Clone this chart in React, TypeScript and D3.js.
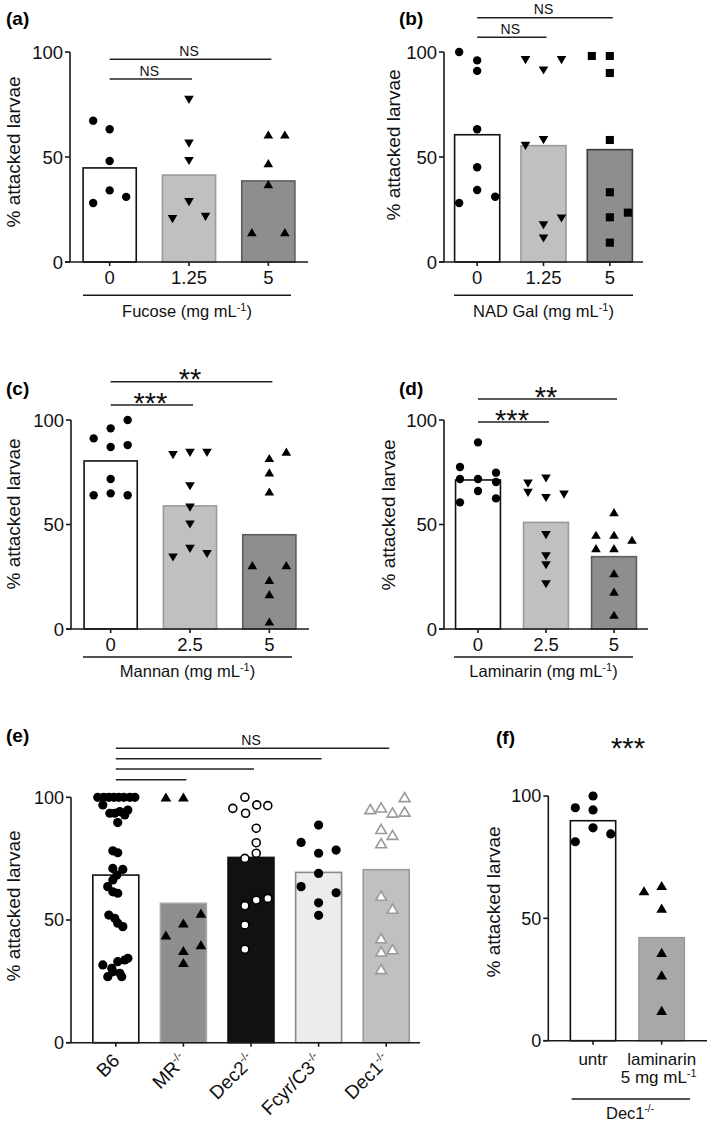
import React from 'react';
import * as d3 from 'd3';

const FONT = "'Liberation Sans', Arial, Helvetica, sans-serif";

// ---------- Panel (a): Fucose ----------
const fucoseDoses = ['0', '1.25', '5'];
const fucoseMeans = [44.8, 41.4, 38.6];
const fucose0 = [67.3, 63.2, 48.1, 34.1, 28.1, 31.0];
const fucose0Slot = [-1, 0, 0, 0, -1, 1];
const fucose1 = [77.3, 56.5, 48.2, 28.6, 20.5, 21.6];
const fucose1Slot = [0, 0, 0, 0, -1, 1];
const fucose2 = [60.6, 60.6, 47, 37, 14.1, 14.1];
const fucose2Slot = [0, 1, 0, 0, -1, 1];

// ---------- Panel (b): NAD Gal ----------
const nadDoses = ['0', '1.25', '5'];
const nadMeans = [60.6, 55.4, 53.5];
const nad0 = [100, 96, 91, 63.2, 45.1, 34.3, 28.1, 31.1];
const nad0Slot = [-1, 0, 0, 0, 0, 0, -1, 1];
const nad1 = [96.2, 91.3, 96.2, 58.1, 55.4, 20.8, 17.6, 11.3];
const nad1Slot = [-1, 0, 1, 0, -1, 1, 0, 0];
const nad2 = [98.1, 98.1, 90, 58.1, 33.2, 21.3, 23.5, 9.2];
const nad2Slot = [-1, 0, 0, 0, 0, 0, 1, 0];

// ---------- Panel (c): Mannan ----------
const mannanDoses = ['0', '2.5', '5'];
const mannanMeans = [80.4, 58.9, 45.1];
const mannan0 = [91.2, 96, 100, 87.1, 88, 71.8, 64, 64.9, 64];
const mannan0Slot = [-1, 0, 1, 0, 1, 0, -1, 0, 1];
const mannan1 = [83.3, 84.4, 84.4, 68.4, 58.2, 50.1, 34.3, 38.4, 36];
const mannan1Slot = [-1, 0, 1, 0, 0, 0, -1, 0, 1];
const mannan2 = [81.7, 84.8, 74.8, 65.7, 30.5, 30.5, 23.4, 16.6, 3.5];
const mannan2Slot = [0, 1, 0, 0, -1, 1, 0, 0, 0];

// ---------- Panel (d): Laminarin ----------
const lamDoses = ['0', '2.5', '5'];
const lamMeans = [71.3, 51, 34.6];
const lam0 = [89.3, 77.5, 71.8, 71.8, 74.8, 70.3, 66, 60.6, 62.5];
const lam0Slot = [0, -1, -1, 0, 1, 1, 0, -1, 1];
const lam1 = [69.7, 65.2, 72.1, 62.8, 64.4, 45, 34.9, 30.6, 21.5];
const lam1Slot = [-1, -1, 0, 0, 1, 0, 0, 0, 0];
const lam2 = [55.8, 45, 45, 42.6, 38.6, 38.6, 26.6, 17.8, 6.7];
const lam2Slot = [0, -1, 0, 1, -1, 0, 0, 0, 0];

// ---------- Panel (e): knockouts ----------
const strains = ['B6', 'MR', 'Dec2', 'Fcyr/C3', 'Dec1'];
const strainSup = ['', '-/-', '-/-', '-/-', '-/-'];
const strainMeans = [68.3, 56.8, 75.5, 69.4, 70.5];
const b6 = [100, 100, 100, 100, 100, 100, 100, 100, 96.9, 93.5, 93.5, 94.2, 94.8, 92.8, 89.7, 78.2, 77.4,
  71, 70.6, 68.3, 66.3, 63.6, 61.5, 60.9, 52, 50.7, 48.7, 47.3, 31.7, 30.3, 33, 33.7, 34.4, 26.9, 28.9, 28.3, 26.9];
const b6Slot = [-1.03, -0.69, -0.4, -0.11, 0.17, 0.46, 0.8, 1.09, -0.74, -0.34, -0.06, 0.23, 0.69, 0.51, 0.11, -0.17, 0.11,
  -0.17, 0.4, 0.06, -0.17, -0.46, -0.17, 0.11, -0.4, -0.06, 0.11, 0.4, -0.74, -0.23, 0.11, 0.51, 0.69, -0.46, -0.17, 0.23, 0.34];
const mr = [100, 100, 43.8, 48.7, 52.7, 37.5, 39.8, 32.6];
const mrSlot = [-1, 0, -1, 0, 1, 0, 1, 0];
const dec2 = [100, 95.5, 93.5, 96.9, 96.6, 87.4, 81.5, 77.2, 75.1, 58.1, 58.8, 55.8, 48, 38.1];
const dec2Slot = [-0.35, -1.04, -0.31, 0.33, 0.96, 0.3, 0.3, 0.3, -0.35, 0.3, 0.96, -0.35, -0.35, -0.35];
const fcyr = [88.7, 81.6, 77.2, 78.5, 69, 63.6, 61.1, 57, 51.9];
const fcyrSlot = [0, -1, 0, 1, 0, -1, 1, 0, 0];
const dec1 = [100, 95.1, 95.8, 93.7, 94.1, 87, 84.6, 81.2, 59.8, 54.5, 42.5, 38, 37.1, 29.9];
const dec1Slot = [1.05, -0.91, -0.29, 0.36, 1.05, -0.29, 0.36, -0.29, -0.29, 0.36, -0.29, 0.36, -0.29, -0.29];

// ---------- Panel (f): Dec1-/- laminarin ----------
const fTreat = ['untr', 'laminarin'];
const fMeans = [89.9, 42.1];
const fUntr = [95.2, 100, 94.3, 87, 84.5, 81.3];
const fUntrSlot = [-1, 0, 0, 0, 1, -1];
const fLam = [61.2, 63.3, 54.1, 36, 26.8, 12.3];
const fLamSlot = [-1, 0, 0, 0, 0, 0];

const yTicks = [0, 50, 100];

type Shape = 'circle' | 'openCircle' | 'triUp' | 'triDown' | 'openTri' | 'square';
interface Group { vals: number[]; slots: number[]; shape: Shape; }
interface Bracket { from: number; to: number; y: number; text: string; kind: 'ns' | 'star'; }
interface Cfg {
  label: string; labelPos: [number, number];
  axisX: number; axisEnd: number; band: [number, number]; yTop: number; y0: number; pad: number;
  slotPx: number; r: number; tri: number; tickFont: number;
  cats: string[]; sups?: string[]; means: number[]; groups: Group[];
  fills: string[]; strokes: string[];
  yLabel: [number, number];
  catMode: 'plain' | 'rot' | 'two';
  title: React.ReactNode; titlePos: [number, number]; underline: [number, number, number];
  brackets: Bracket[];
}

function Marker({ shape, x, y, r, t }: { shape: Shape; x: number; y: number; r: number; t: number }) {
  const up = `M${x},${y - t * 0.5}L${x + t * 0.56},${y + t * 0.45}L${x - t * 0.56},${y + t * 0.45}Z`;
  const down = `M${x},${y + t * 0.5}L${x + t * 0.56},${y - t * 0.45}L${x - t * 0.56},${y - t * 0.45}Z`;
  switch (shape) {
    case 'circle': return <circle cx={x} cy={y} r={r} fill="#000" />;
    case 'openCircle': return <circle cx={x} cy={y} r={r - 0.6} fill="#fff" stroke="#000" strokeWidth={1.6} />;
    case 'square': return <rect x={x - t * 0.47} y={y - t * 0.47} width={t * 0.94} height={t * 0.94} fill="#000" />;
    case 'triUp': return <path d={up} fill="#000" />;
    case 'triDown': return <path d={down} fill="#000" />;
    case 'openTri': return <path d={up} fill="#fff" stroke="#9a9a9a" strokeWidth={1.6} />;
  }
  return null;
}

function Panel({ c }: { c: Cfg }) {
  const x = d3.scaleBand<number>().domain(c.cats.map((_, i) => i)).range(c.band)
    .paddingInner(c.pad).paddingOuter(c.pad / 2);
  const y = d3.scaleLinear().domain([0, 100]).range([c.y0, c.yTop]);
  const cx = (i: number) => (x(i) as number) + x.bandwidth() / 2;
  const ax = '#1a1a1a';
  return (
    <g fontFamily={FONT}>
      <text x={c.labelPos[0]} y={c.labelPos[1]} fontSize={19} fontWeight="bold">{c.label}</text>
      {/* bars */}
      {c.means.map((m, i) => (
        <rect key={'b' + i} x={x(i)} y={y(m)} width={x.bandwidth()} height={c.y0 - y(m)}
          fill={c.fills[i]} stroke={c.strokes[i]} strokeWidth={1.6} />
      ))}
      {/* points */}
      {c.groups.map((g, gi) => g.vals.map((v, k) => (
        <Marker key={`p${gi}-${k}`} shape={g.shape} x={cx(gi) + g.slots[k] * c.slotPx} y={y(v)} r={c.r} t={c.tri} />
      )))}
      {/* y axis */}
      <line x1={c.axisX} x2={c.axisX} y1={y(100)} y2={c.y0} stroke={ax} strokeWidth={1.6} />
      {yTicks.map(t => (
        <g key={'t' + t}>
          <line x1={c.axisX - 5} x2={c.axisX} y1={y(t)} y2={y(t)} stroke={ax} strokeWidth={1.6} />
          <text x={c.axisX - 7} y={y(t)} dy="0.36em" textAnchor="end" fontSize={c.tickFont} fill="#111">{t}</text>
        </g>
      ))}
      <text transform={`translate(${c.yLabel[0]},${c.yLabel[1]}) rotate(-90)`} textAnchor="middle" fontSize={19} fill="#111">% attacked larvae</text>
      {/* x axis */}
      <line x1={c.axisX - 5} x2={c.axisEnd} y1={c.y0} y2={c.y0} stroke={ax} strokeWidth={1.6} />
      {c.cats.map((cat, i) => (
        <g key={'c' + i}>
          <line x1={cx(i)} x2={cx(i)} y1={c.y0} y2={c.y0 + 4} stroke={ax} strokeWidth={1.6} />
          {c.catMode === 'plain' && (
            <text x={cx(i)} y={c.y0 + 21.5} textAnchor="middle" fontSize={c.tickFont} fill="#111">{cat}</text>
          )}
          {c.catMode === 'rot' && (
            <text transform={`translate(${cx(i) + 5},${c.y0 + 19}) rotate(-45)`} textAnchor="end" fontSize={19} fill="#111">
              {cat}{c.sups && c.sups[i] ? <tspan dy={-8} fontSize={11}>{c.sups[i]}</tspan> : null}
            </text>
          )}
          {c.catMode === 'two' && i === 0 && (
            <text x={cx(i)} y={c.y0 + 24} textAnchor="middle" fontSize={17} fill="#111">{cat}</text>
          )}
          {c.catMode === 'two' && i === 1 && (
            <text x={cx(i)} y={c.y0 + 24} textAnchor="middle" fontSize={17} fill="#111">
              <tspan x={cx(i)}>{cat}</tspan>
              <tspan x={cx(i) - 3} dy={18}>5 mg mL</tspan>
              <tspan dy={-5.5} fontSize={11}>-1</tspan>
            </text>
          )}
        </g>
      ))}
      {/* underline and title */}
      {c.underline[1] > 0 && (
        <line x1={c.underline[0]} x2={c.underline[1]} y1={c.underline[2]} y2={c.underline[2]} stroke={ax} strokeWidth={1.6} />
      )}
      {c.title && (
        <text x={c.titlePos[0]} y={c.titlePos[1]} textAnchor="middle" fontSize={16.5} fill="#111">{c.title}</text>
      )}
      {/* significance brackets */}
      {c.brackets.map((b, i) => (
        <g key={'s' + i}>
          <line x1={cx(b.from)} x2={cx(b.to) + 3} y1={b.y} y2={b.y} stroke="#222" strokeWidth={1.6} />
          {b.text && (b.kind === 'ns' ? (
            <text x={(cx(b.from) + cx(b.to)) / 2} y={b.y - 3.5} textAnchor="middle" fontSize={14} fill="#111">{b.text}</text>
          ) : (
            <text x={(cx(b.from) + cx(b.to)) / 2} y={b.y + 7.5} textAnchor="middle" fontSize={29} fill="#111">{b.text}</text>
          ))}
        </g>
      ))}
    </g>
  );
}

const mgml = (name: string) => (
  <>{name} (mg mL<tspan dy={-6} fontSize={11}>-1</tspan><tspan dy={6}>)</tspan></>
);

const grayFills = ['#ffffff', '#c0c0c0', '#8e8e8e'];
const grayStrokes = ['#111111', '#9a9a9a', '#5e5e5e'];

const panels: Cfg[] = [
  {
    label: '(a)', labelPos: [6, 25], axisX: 70, axisEnd: 308, band: [70, 308], yTop: 52, y0: 262, pad: 0.33,
    slotPx: 16.5, r: 4.2, tri: 8.6, tickFont: 18.5, cats: fucoseDoses, means: fucoseMeans,
    groups: [
      { vals: fucose0, slots: fucose0Slot, shape: 'circle' },
      { vals: fucose1, slots: fucose1Slot, shape: 'triDown' },
      { vals: fucose2, slots: fucose2Slot, shape: 'triUp' },
    ],
    fills: grayFills, strokes: grayStrokes, yLabel: [20, 152], catMode: 'plain',
    title: mgml('Fucose'), titlePos: [187, 317], underline: [83, 291, 295.3],
    brackets: [
      { from: 0, to: 2, y: 59.3, text: 'NS', kind: 'ns' },
      { from: 0, to: 1, y: 79, text: 'NS', kind: 'ns' },
    ],
  },
  {
    label: '(b)', labelPos: [399, 25], axisX: 444, axisEnd: 643, band: [444, 643], yTop: 52, y0: 262, pad: 0.32,
    slotPx: 18, r: 4.2, tri: 8.6, tickFont: 18.5, cats: nadDoses, means: nadMeans,
    groups: [
      { vals: nad0, slots: nad0Slot, shape: 'circle' },
      { vals: nad1, slots: nad1Slot, shape: 'triDown' },
      { vals: nad2, slots: nad2Slot, shape: 'square' },
    ],
    fills: grayFills, strokes: ['#111111', '#9a9a9a', '#3a3a3a'], yLabel: [400, 145], catMode: 'plain',
    title: mgml('NAD Gal'), titlePos: [543.5, 317], underline: [454, 633, 295.3],
    brackets: [
      { from: 0, to: 2, y: 17.7, text: 'NS', kind: 'ns' },
      { from: 0, to: 1, y: 37.3, text: 'NS', kind: 'ns' },
    ],
  },
  {
    label: '(c)', labelPos: [6, 395], axisX: 71, axisEnd: 309, band: [71, 309], yTop: 420, y0: 629, pad: 0.33,
    slotPx: 17, r: 4.2, tri: 8.6, tickFont: 18.5, cats: mannanDoses, means: mannanMeans,
    groups: [
      { vals: mannan0, slots: mannan0Slot, shape: 'circle' },
      { vals: mannan1, slots: mannan1Slot, shape: 'triDown' },
      { vals: mannan2, slots: mannan2Slot, shape: 'triUp' },
    ],
    fills: grayFills, strokes: grayStrokes, yLabel: [20, 514], catMode: 'plain',
    title: mgml('Mannan'), titlePos: [187.5, 677], underline: [83, 292, 657],
    brackets: [
      { from: 0, to: 2, y: 381.7, text: '**', kind: 'star' },
      { from: 0, to: 1, y: 405, text: '***', kind: 'star' },
    ],
  },
  {
    label: '(d)', labelPos: [399, 395], axisX: 444, axisEnd: 648, band: [444, 648], yTop: 420, y0: 629, pad: 0.34,
    slotPx: 18, r: 4.2, tri: 8.6, tickFont: 18.5, cats: lamDoses, means: lamMeans,
    groups: [
      { vals: lam0, slots: lam0Slot, shape: 'circle' },
      { vals: lam1, slots: lam1Slot, shape: 'triDown' },
      { vals: lam2, slots: lam2Slot, shape: 'triUp' },
    ],
    fills: grayFills, strokes: grayStrokes, yLabel: [395, 515], catMode: 'plain',
    title: mgml('Laminarin'), titlePos: [543.5, 677], underline: [454, 633, 657],
    brackets: [
      { from: 0, to: 2, y: 399, text: '**', kind: 'star' },
      { from: 0, to: 1, y: 422, text: '***', kind: 'star' },
    ],
  },
  {
    label: '(e)', labelPos: [6, 742], axisX: 71, axisEnd: 420, band: [82, 420], yTop: 797.3, y0: 1042.7, pad: 0.32,
    slotPx: 17.5, r: 4.6, tri: 9.6, tickFont: 18, cats: strains, sups: strainSup, means: strainMeans,
    groups: [
      { vals: b6, slots: b6Slot, shape: 'circle' },
      { vals: mr, slots: mrSlot, shape: 'triUp' },
      { vals: dec2, slots: dec2Slot, shape: 'openCircle' },
      { vals: fcyr, slots: fcyrSlot, shape: 'circle' },
      { vals: dec1, slots: dec1Slot, shape: 'openTri' },
    ],
    fills: ['#ffffff', '#8e8e8e', '#111111', '#ececec', '#c0c0c0'],
    strokes: ['#111111', '#a8a8a8', '#111111', '#8a8a8a', '#9a9a9a'], yLabel: [20, 906], catMode: 'rot',
    title: '', titlePos: [0, 0], underline: [0, 0, 0],
    brackets: [
      { from: 0, to: 4, y: 748.3, text: 'NS', kind: 'ns' },
      { from: 0, to: 3, y: 758.7, text: '', kind: 'ns' },
      { from: 0, to: 2, y: 769, text: '', kind: 'ns' },
      { from: 0, to: 1, y: 779.7, text: '', kind: 'ns' },
    ],
  },
  {
    label: '(f)', labelPos: [496, 744], axisX: 548.3, axisEnd: 707, band: [558.7, 696], yTop: 796, y0: 1040.7, pad: 0.34,
    slotPx: 17.7, r: 4.6, tri: 9.6, tickFont: 18, cats: fTreat, means: fMeans,
    groups: [
      { vals: fUntr, slots: fUntrSlot, shape: 'circle' },
      { vals: fLam, slots: fLamSlot, shape: 'triUp' },
    ],
    fills: ['#ffffff', '#a8a8a8'], strokes: ['#111111', '#9a9a9a'], yLabel: [500, 902], catMode: 'two',
    title: <>Dec1<tspan dy={-7} fontSize={10}>-/-</tspan></>, titlePos: [630, 1119], underline: [571.7, 690, 1099],
    brackets: [],
  },
];

export default function App() {
  return (
    <svg width={709} height={1124} viewBox="0 0 709 1124"
      style={{ position: 'absolute', left: 0, top: 0, background: '#fff' }}>
      <rect width={709} height={1124} fill="#fff" />
      {panels.map((p, i) => <Panel key={i} c={p} />)}
      {/* (f) significance */}
      <text x={628} y={758} textAnchor="middle" fontSize={29} fontFamily={FONT} fill="#111">***</text>
    </svg>
  );
}
